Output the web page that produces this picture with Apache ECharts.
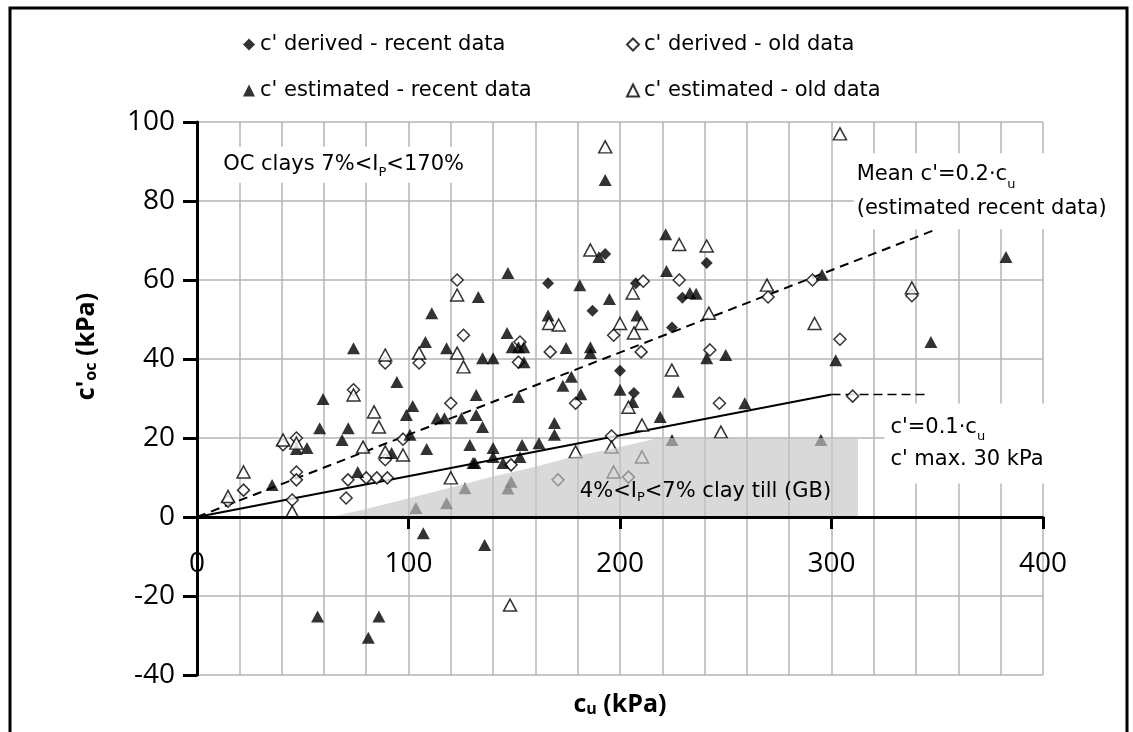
<!DOCTYPE html>
<html>
<head>
<meta charset="utf-8">
<script src="https://cdn.jsdelivr.net/npm/echarts@6/dist/echarts.min.js"></script>
<style>
  html, body { margin: 0; padding: 0; background: #fff; }
  #chart { width: 1133px; height: 732px; }
</style>
</head>
<body>
<div id="chart"></div>
<script>
// Undrained strength c_u (kPa) vs effective cohesion c'oc (kPa)
const derivedRecent = [[166,59.2],[193,66.6],[187,52.2],[207.5,59.2],[229.5,55.5],[241,64.3],[224.6,48],[200,37],[206.6,31.4]];

const derivedOld = [[123,60],[126,46],[89,39],[105,39],[74,32.2],[120,28.8],[97.4,19.7],[40.7,18.3],[47,20],[47,11.4],[47,9.4],
  [45,4.3],[22,6.8],[14.7,4],[71.4,9.4],[70.5,4.8],[80,9.9],[85,9.9],[90,9.9],[89,14.5],[148.5,13.2],[170.7,9.4],[204,10.1],
  [179,28.8],[197,46],[210,41.8],[167,41.8],[152,39.2],[228,60],[211,59.7],[242.5,42.3],[247,28.8],[270,55.7],[291,60],
  [304,45],[310,30.6],[338,56],[152.7,44.3],[196,20.5]];

const estimatedRecent = [[133,55.7],[111,51.6],[193,85.3],[221.6,71.6],[190,65.8],[147,61.8],[181,58.7],[222,62.3],[233,56.7],
  [236,56.5],[195,55.2],[166,51],[208,51],[382.5,65.8],[295.5,61.3],[347,44.3],[302,39.7],[295,19.5],[108,44.3],[118,42.7],
  [135,40.2],[74,42.7],[94.5,34.2],[59.6,29.9],[132,30.9],[102,28.1],[99,25.8],[58,22.5],[71.5,22.5],[68.6,19.5],[113.5,25],
  [117,25],[125,25],[132,25.8],[135,22.8],[100.7,20.8],[52,17.5],[47,17.2],[92,16.2],[108.6,17.2],[129,18.2],[130.5,13.7],
  [35.5,8.1],[76,11.4],[103.5,2.3],[118,3.5],[126.7,7.3],[107,-4.1],[136,-7.1],[57,-25.2],[86,-25.2],[81,-30.6],[146.6,46.6],
  [149,43],[152,43],[154.5,43],[174.5,42.8],[186,43],[186,41.5],[241,40.2],[250,41],[140,40.2],[154.6,39.2],[177,35.5],
  [173,33.2],[152,30.4],[181.5,31.1],[200,32.2],[206,29.1],[227.5,31.7],[259,28.8],[219,25.3],[224.6,19.5],[169,23.8],
  [169,20.8],[161.7,18.7],[153.7,18.2],[152.7,15.2],[140,17.5],[140,15.2],[131.4,13.7],[144.7,13.7],[148.5,8.9],[147,7.2]];

const estimatedOld = [[123,56.2],[193,93.7],[228,69],[241,68.6],[186,67.6],[206,56.7],[269.5,58.7],[242,51.6],[304,97],[292,49],
  [123,41.5],[126,38],[89,41],[105,41.5],[74,30.9],[83.7,26.6],[86,22.8],[40.7,19.5],[47,18.7],[78.5,17.7],[89,16.5],
  [97.4,15.7],[22,11.4],[14.7,5.2],[45,1.3],[120,9.9],[166.5,49],[171,48.6],[200,49],[210,49],[206.6,46.6],[224.5,37.2],
  [204,27.8],[210.4,23.3],[247.7,21.5],[179,16.5],[196,17.7],[210.4,15.2],[197,11.4],[148,-22.3],[338,58]];

// Trend lines
const meanLine = [[0,0],[348,72.5]];           // mean c' = 0.2 c_u
const tenthLine = [[0,0],[300,31]];            // c' = 0.1 c_u
const capLine = [[300,31],[345,31]];           // c' max 30 kPa

// Zone of clay till 4% < Ip < 7% (GB)
const tillX = [63, 80, 97, 121, 138, 160, 176, 200, 218, 312.5, 312.5];
const tillY = [0, 2, 4.3, 7.6, 10, 12.7, 15, 17.7, 20, 20, 0];

// Axis ranges and ticks
const xMin = 0, xMax = 400, yMin = -40, yMax = 100, step = 20;
const xLabelValues = [0, 100, 200, 300, 400];
const xTickValues = [100, 200, 300, 400];

const names = [
  "c' derived - recent data",
  "c' derived - old data",
  "c' estimated - recent data",
  "c' estimated - old data"
];

const tickFont = '"Open Sans", "DejaVu Sans", sans-serif';
const noteFont = '"DejaVu Sans", sans-serif';
const legendFont = '"DejaVu Sans", sans-serif';

const W = 1133, H = 732;
const gridBox = { left: 197, right: 90, top: 122, bottom: 57 };
// the c_u axis sits on c' = 0: lift it from the bottom edge of the plot
const plotH = H - gridBox.top - gridBox.bottom;
const zeroLift = -plotH * (0 - yMin) / (yMax - yMin);

const chart = echarts.init(document.getElementById('chart'), null, { renderer: 'canvas' });

const hollow = { color: '#fff', borderColor: '#000', borderWidth: 1.5 };
const solid = { color: '#000' };

function legendAt(name, left, top) {
  return {
    data: [name], left: left, top: top, itemWidth: 12, itemHeight: 12, itemGap: 8,
    textStyle: { fontFamily: legendFont, fontSize: 21, color: '#000' }, selectedMode: false
  };
}

const subRich = { sub: { fontFamily: tickFont, fontSize: 16, fontWeight: 'bold', lineHeight: 8, verticalAlign: 'bottom' } };

const option = {
  animation: false,
  backgroundColor: '#fff',
  grid: Object.assign({ containLabel: false, outerBoundsMode: 'none' }, gridBox),
  legend: [
    legendAt(names[0], 238, 29),
    legendAt(names[1], 621, 29),
    legendAt(names[2], 238, 75),
    legendAt(names[3], 621, 75)
  ],
  xAxis: [
    {
      type: 'value', min: xMin, max: xMax, interval: step, z: 3, position: 'bottom', offset: zeroLift,
      name: 'c{sub|u} (kPa)', nameLocation: 'middle', nameGap: 175,
      nameTextStyle: { fontFamily: tickFont, fontSize: 25, fontWeight: 'bold', color: '#000', rich: subRich },
      axisLine: { show: true, onZero: false, lineStyle: { color: '#000', width: 3 } },
      axisTick: { show: true, customValues: xTickValues, length: 12, lineStyle: { color: '#000', width: 3 } },
      axisLabel: { customValues: xLabelValues, margin: 33, fontFamily: tickFont, fontSize: 28, color: '#000' },
      splitLine: { show: false }
    },
    {
      type: 'value', min: xMin, max: xMax, interval: step, z: 0,
      axisLine: { show: false }, axisTick: { show: false }, axisLabel: { show: false },
      splitLine: { show: true, lineStyle: { color: '#b5b5b5', width: 1.5 } }
    }
  ],
  yAxis: [
    {
      type: 'value', min: yMin, max: yMax, interval: step, z: 3,
      name: "c'{sub|oc} (kPa)", nameLocation: 'middle', nameGap: 98, nameRotate: 90,
      nameTextStyle: { fontFamily: tickFont, fontSize: 25, fontWeight: 'bold', color: '#000', rich: subRich, padding: [0, 0, 0, 104] },
      axisLine: { show: true, onZero: false, lineStyle: { color: '#000', width: 3 } },
      axisTick: { show: true, length: 14, lineStyle: { color: '#000', width: 3 } },
      axisLabel: { margin: 22, fontFamily: tickFont, fontSize: 28, color: '#000' },
      splitLine: { show: false }
    },
    {
      type: 'value', min: yMin, max: yMax, interval: step, z: 0,
      axisLine: { show: false }, axisTick: { show: false }, axisLabel: { show: false },
      splitLine: { show: true, lineStyle: { color: '#b5b5b5', width: 1.5 } }
    }
  ],
  series: [
    { name: names[0], type: 'scatter', symbol: 'diamond', symbolSize: 12, itemStyle: solid, data: derivedRecent, z: 2 },
    { name: names[1], type: 'scatter', symbol: 'diamond', symbolSize: 12, itemStyle: hollow, data: derivedOld, z: 2 },
    { name: names[2], type: 'scatter', symbol: 'triangle', symbolSize: [13, 12], itemStyle: solid, data: estimatedRecent, z: 2 },
    { name: names[3], type: 'scatter', symbol: 'triangle', symbolSize: [13, 12], itemStyle: hollow, data: estimatedOld, z: 2 },
    { type: 'line', data: meanLine, symbol: 'none', lineStyle: { color: '#000', width: 2, type: [9, 6] }, z: 2, silent: true },
    { type: 'line', data: tenthLine, symbol: 'none', lineStyle: { color: '#000', width: 2 }, z: 2, silent: true },
    { type: 'line', data: capLine, symbol: 'none', lineStyle: { color: '#000', width: 1.5, type: [9, 5] }, z: 2, silent: true },
    {
      type: 'custom', z: 2.5, silent: true,
      data: [0],
      renderItem: function (params, api) {
        const pts = tillX.map((x, i) => api.coord([x, tillY[i]]));
        return { type: 'polygon', shape: { points: pts }, style: { fill: 'rgba(197,197,197,0.66)' } };
      }
    }
  ]
};

chart.setOption(option);

// Annotations anchored in data coordinates
const P = (x, y) => chart.convertToPixel({ xAxisIndex: 0, yAxisIndex: 0 }, [x, y]);
const subStyle = (size) => ({ fontFamily: noteFont, fontSize: size, lineHeight: 6, verticalAlign: 'bottom', fill: '#000' });
const mainStyle = (size) => ({ fontFamily: noteFont, fontSize: size, fill: '#000' });

function note(x, y, text, opts) {
  const p = P(x, y);
  return {
    type: 'text', x: p[0], y: p[1], z: 50,
    style: Object.assign({
      text: text, fontFamily: noteFont, fontSize: 21, fill: '#000',
      verticalAlign: 'middle', align: 'left', lineHeight: 34,
      rich: { n: mainStyle(21), sub: subStyle(13) }
    }, opts || {})
  };
}

chart.setOption({
  graphic: [
    {
      type: 'rect', z: 100, silent: true,
      shape: { x: 10, y: 8, width: 1117, height: 760 },
      style: { fill: 'none', stroke: '#000', lineWidth: 3 }
    },
    note(10.5, 89.2, '{n|OC clays 7%<I}{sub|P}{n|<170%}', { backgroundColor: '#fff', padding: [4, 4, 4, 4], lineHeight: 28 }),
    note(310.5, 82.5, "{n|Mean c'=0.2·c}{sub|u}\n{n|(estimated recent data)}", { backgroundColor: '#fff', padding: [4, 3, 4, 3], lineHeight: 34 }),
    note(325, 18.6, "{n|c'=0.1·c}{sub|u}\n{n|c' max. 30 kPa}", { backgroundColor: '#fff', padding: [8, 6, 8, 6], lineHeight: 32 }),
    note(181, 6.5, '{n|4%<I}{sub|P}{n|<7% clay till (GB)}', { lineHeight: 26 })
  ]
});
</script>
</body>
</html>
